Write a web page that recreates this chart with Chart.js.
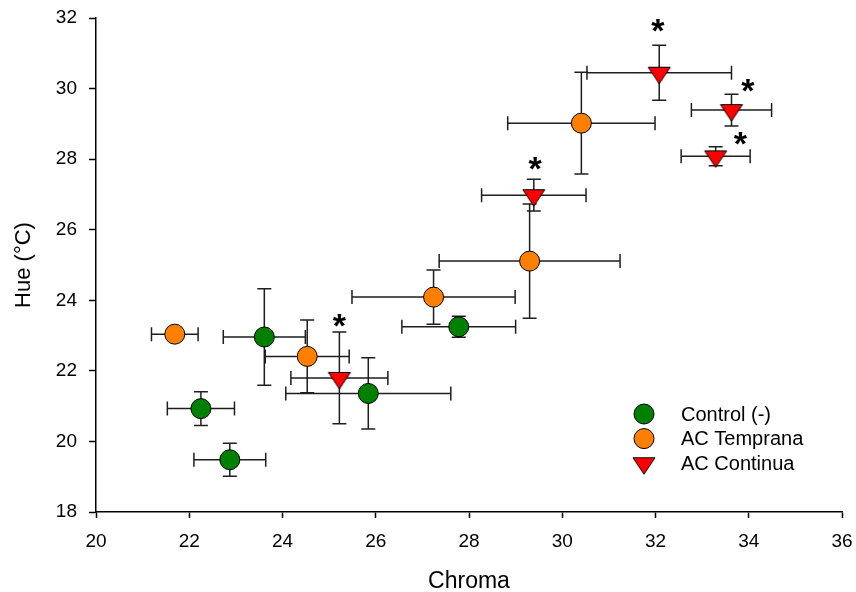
<!DOCTYPE html>
<html>
<head>
<meta charset="utf-8">
<script src="https://cdn.jsdelivr.net/npm/chart.js@4/dist/chart.umd.min.js"></script>
<style>
  html, body { margin: 0; padding: 0; background: #fff; }
  #c { display: block; }
</style>
</head>
<body>
<canvas id="c" width="856" height="592"></canvas>
<script>
// Series labels
const seriesNames = ['Control (-)', 'AC Temprana', 'AC Continua'];

// Control (-): mean chroma / hue with standard errors
const controlChroma = [22.25, 22.87, 23.61, 25.84, 27.78];
const controlHue    = [20.93, 19.48, 22.96, 21.36, 23.25];
const controlChromaErr = [0.72, 0.77, 0.88, 1.77, 1.22];
const controlHueErr    = [0.48, 0.47, 1.37, 1.01, 0.30];

// AC Temprana
const tempranaChroma = [21.69, 24.53, 27.24, 29.30, 30.41];
const tempranaHue    = [23.04, 22.41, 24.09, 25.11, 29.02];
const tempranaChromaErr = [0.50, 0.90, 1.75, 1.94, 1.58];
const tempranaHueErr    = [0.10, 1.03, 0.77, 1.62, 1.44];

// AC Continua
const continuaChroma = [25.22, 29.39, 32.08, 33.63, 33.29];
const continuaHue    = [21.80, 26.98, 30.45, 29.39, 28.08];
const continuaChromaErr = [1.04, 1.12, 1.55, 0.86, 0.74];
const continuaHueErr    = [1.30, 0.45, 0.78, 0.45, 0.27];

// Significance marks (*) placed in chroma / hue units
const sigChroma = [25.22, 29.42, 32.05, 33.98, 33.82];
const sigHue    = [23.42, 27.89, 31.79, 30.10, 28.59];

// Axis ranges and tick step
const chromaRange = [20, 36];
const hueRange = [18, 32];
const tickStep = 2;

const FONT = "'Liberation Sans', Arial, Helvetica, sans-serif";

function points(xs, ys, xe, ye) {
  return xs.map((v, i) => ({ x: v, y: ys[i], xErr: xe[i], yErr: ye[i] }));
}

// Downward triangle symbol, anchored at its circumcentre
function makeTriangle(fill) {
  const c = document.createElement('canvas');
  c.width = 26; c.height = 26;
  const g = c.getContext('2d');
  g.beginPath();
  g.moveTo(2, 7.5);
  g.lineTo(24, 7.5);
  g.lineTo(13, 24);
  g.closePath();
  g.fillStyle = fill;
  g.fill();
  g.lineWidth = 1;
  g.strokeStyle = '#000';
  g.stroke();
  return c;
}
const redTriangle = makeTriangle('#ff0000');

// Cross-shaped error bars with end caps
const errorBars = {
  id: 'errorBars',
  beforeDatasetsDraw(chart) {
    const { ctx } = chart;
    const xs = chart.scales.x, ys = chart.scales.y;
    const cap = 7;
    ctx.save();
    ctx.strokeStyle = '#1e1e1e';
    ctx.lineWidth = 1.5;
    chart.data.datasets.forEach(ds => {
      ds.data.forEach(p => {
        const px = xs.getPixelForValue(p.x), py = ys.getPixelForValue(p.y);
        const l = xs.getPixelForValue(p.x - p.xErr), r = xs.getPixelForValue(p.x + p.xErr);
        const t = ys.getPixelForValue(p.y + p.yErr), b = ys.getPixelForValue(p.y - p.yErr);
        ctx.beginPath();
        ctx.moveTo(l, py); ctx.lineTo(r, py);
        ctx.moveTo(l, py - cap); ctx.lineTo(l, py + cap);
        ctx.moveTo(r, py - cap); ctx.lineTo(r, py + cap);
        ctx.moveTo(px, t); ctx.lineTo(px, b);
        ctx.moveTo(px - cap, t); ctx.lineTo(px + cap, t);
        ctx.moveTo(px - cap, b); ctx.lineTo(px + cap, b);
        ctx.stroke();
      });
    });
    ctx.restore();
  }
};

// Asterisks for significant differences
const sigMarks = {
  id: 'sigMarks',
  afterDatasetsDraw(chart) {
    const { ctx } = chart;
    const xs = chart.scales.x, ys = chart.scales.y;
    ctx.save();
    ctx.fillStyle = '#000';
    ctx.font = 'bold 34px ' + FONT;
    ctx.textAlign = 'center';
    ctx.textBaseline = 'alphabetic';
    const m = ctx.measureText('*');
    const shift = (m.actualBoundingBoxAscent - m.actualBoundingBoxDescent) / 2;
    sigChroma.forEach((v, i) => {
      ctx.fillText('*', xs.getPixelForValue(v), ys.getPixelForValue(sigHue[i]) + shift);
    });
    ctx.restore();
  }
};

// Legend inside the plot area, lower right
const insetLegend = {
  id: 'insetLegend',
  afterDraw(chart) {
    const { ctx, chartArea } = chart;
    const sx = chartArea.right - 198, tx = chartArea.right - 161;
    const y0 = chartArea.top + 396, dy = 24.6;
    ctx.save();
    ctx.font = '20px ' + FONT;
    ctx.textAlign = 'left';
    ctx.textBaseline = 'middle';
    chart.data.datasets.forEach((ds, i) => {
      const y = y0 + i * dy;
      if (ds.pointStyle === 'circle') {
        ctx.beginPath();
        ctx.arc(sx, y, ds.pointRadius, 0, Math.PI * 2);
        ctx.fillStyle = ds.backgroundColor;
        ctx.fill();
        ctx.lineWidth = 1;
        ctx.strokeStyle = '#000';
        ctx.stroke();
      } else {
        ctx.drawImage(ds.pointStyle, sx - 13, y - 13);
      }
      ctx.fillStyle = '#000';
      ctx.fillText(ds.label, tx, y + 1);
    });
    ctx.restore();
  }
};

// Fixed axis box sizes; label overhang is absorbed by the layout padding
function fixBox(w, h) {
  return function (s) {
    if (w !== null) s.width = w;
    if (h !== null) s.height = h;
    s.paddingTop = 0; s.paddingBottom = 0; s.paddingLeft = 0; s.paddingRight = 0;
  };
}

const chart = new Chart(document.getElementById('c'), {
  type: 'scatter',
  data: {
    datasets: [
      {
        label: seriesNames[0],
        data: points(controlChroma, controlHue, controlChromaErr, controlHueErr),
        pointStyle: 'circle', pointRadius: 10,
        backgroundColor: '#008000', borderColor: '#000', borderWidth: 1
      },
      {
        label: seriesNames[1],
        data: points(tempranaChroma, tempranaHue, tempranaChromaErr, tempranaHueErr),
        pointStyle: 'circle', pointRadius: 10,
        backgroundColor: '#ff8000', borderColor: '#000', borderWidth: 1
      },
      {
        label: seriesNames[2],
        data: points(continuaChroma, continuaHue, continuaChromaErr, continuaHueErr),
        pointStyle: redTriangle, pointRadius: 12,
        backgroundColor: '#ff0000', borderColor: '#000', borderWidth: 1
      }
    ]
  },
  options: {
    responsive: false,
    animation: false,
    devicePixelRatio: 1,
    events: [],
    layout: { padding: { top: 18, right: 14, left: 0, bottom: 0 } },
    plugins: { legend: { display: false }, tooltip: { enabled: false } },
    scales: {
      x: {
        type: 'linear',
        position: 'bottom',
        min: chromaRange[0], max: chromaRange[1],
        afterFit: fixBox(null, 80),
        ticks: { stepSize: tickStep, color: '#000', font: { family: FONT, size: 19 }, padding: 12, maxRotation: 0 },
        grid: { display: true, drawOnChartArea: false, drawTicks: true, tickLength: 6, tickWidth: 1.5, tickColor: '#000' },
        border: { display: true, color: '#000', width: 1.5 },
        title: { display: true, text: 'Chroma', color: '#000', font: { family: FONT, size: 23, lineHeight: 0.9 }, padding: { top: 0, bottom: 0 } }
      },
      y: {
        type: 'linear',
        position: 'left',
        min: hueRange[0], max: hueRange[1],
        afterFit: fixBox(96, null),
        ticks: { stepSize: tickStep, color: '#000', font: { family: FONT, size: 19 }, padding: 12 },
        grid: { display: true, drawOnChartArea: false, drawTicks: true, tickLength: 7, tickWidth: 1.5, tickColor: '#000' },
        border: { display: true, color: '#000', width: 1.5 },
        title: { display: true, text: 'Hue (°C)', color: '#000', font: { family: FONT, size: 22, lineHeight: 1.2 }, padding: { top: 11, bottom: 0 } }
      }
    }
  },
  plugins: [errorBars, sigMarks, insetLegend]
});
</script>
</body>
</html>
